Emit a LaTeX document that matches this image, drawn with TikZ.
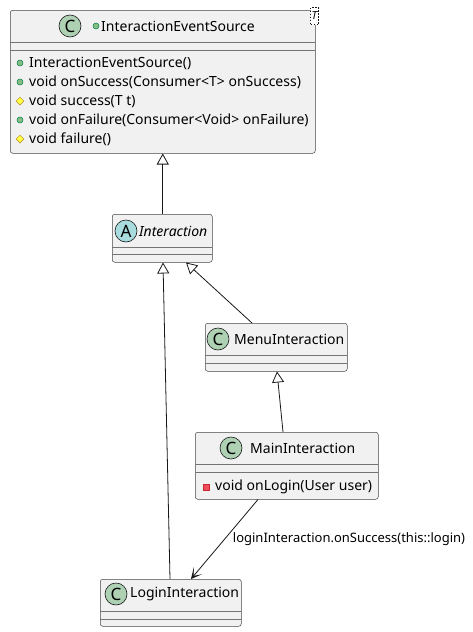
\documentclass[tikz,border=0pt]{standalone}
\usepackage{fontspec}
\setmainfont{Noto Sans}
\usetikzlibrary{arrows.meta,shapes.geometric}
\definecolor{boxfill}{HTML}{F1F1F1}
\definecolor{boxline}{HTML}{181818}
\definecolor{cgreen}{HTML}{ADD1B2}
\definecolor{acyan}{HTML}{A9DCDF}
\definecolor{pubfill}{HTML}{84BE84}
\definecolor{publine}{HTML}{038048}
\definecolor{protfill}{HTML}{FFFF44}
\definecolor{protline}{HTML}{B38D22}
\definecolor{privfill}{HTML}{F24D5C}
\definecolor{privline}{HTML}{C82930}
\tikzset{
  cls/.style={draw=boxline!80, fill=boxfill, line width=0.5pt, rounded corners=2.5pt, inner sep=0pt, anchor=north west},
  sepline/.style={draw=boxline!60, line width=0.5pt},
  circ/.style={circle, draw=boxline, line width=0.6pt, minimum size=22pt, inner sep=0pt, font=\fontsize{17}{17}\selectfont\bfseries},
  title/.style={inner sep=0pt, anchor=west, font=\fontsize{14}{16}\selectfont},
  member/.style={inner sep=0pt, anchor=west, font=\fontsize{14}{16}\selectfont},
  pub/.style={circle, fill=pubfill, draw=publine, line width=0.5pt, minimum size=6pt, inner sep=0pt},
  prot/.style={diamond, fill=protfill, draw=protline, line width=0.5pt, minimum size=8pt, inner sep=0pt},
  priv/.style={rectangle, fill=privfill, draw=privline, line width=0.5pt, minimum size=6pt, inner sep=0pt},
  ext/.style={draw=boxline, line width=0.8pt, -{Triangle[open, length=11pt, width=12pt]}},
  dep/.style={draw=boxline, line width=0.8pt, -{Stealth[length=11pt, width=11pt, inset=7pt]}},
  lbl/.style={inner sep=0pt, anchor=west, font=\fontsize{13}{15}\selectfont},
}
\begin{document}
\begin{tikzpicture}[x=1pt,y=-1pt]
\useasboundingbox (0,0) rectangle (472,632);

% InteractionEventSource
\node[cls, minimum width=305pt, minimum height=143pt] (ies) at (10,10) {};
\draw[sepline] (10,42) -- (315,42);
\draw[sepline] (10,50) -- (315,50);
\node[circ, fill=cgreen] (iesc) at (70,26) {C};
\node[pub] (iesv) at (96,26) {};
\node[title] (iest) at (101,26) {InteractionEventSource};
\node[draw=boxline, dash pattern=on 1.5pt off 1.5pt, line width=0.6pt, fill=white, minimum width=8pt, minimum height=17pt, inner sep=0pt, font=\fontsize{11}{11}\selectfont\itshape] (iesT) at (314.5,16) {T};
\node[pub] (m1i) at (20,63) {};
\node[member] (m1) at (29,63) {InteractionEventSource()};
\node[pub] (m2i) at (20,82) {};
\node[member] (m2) at (29,82) {void onSuccess(Consumer<T> onSuccess)};
\node[prot] (m3i) at (20,101) {};
\node[member] (m3) at (29,101) {void success(T t)};
\node[pub] (m4i) at (20,120) {};
\node[member] (m4) at (29,120) {void onFailure(Consumer<Void> onFailure)};
\node[prot] (m5i) at (20,139) {};
\node[member] (m5) at (29,139) {void failure()};

% Interaction
\node[cls, minimum width=100pt, minimum height=48pt] (inter) at (112,214) {};
\draw[sepline] (112,247) -- (212,247);
\draw[sepline] (112,254) -- (212,254);
\node[circ, fill=acyan] (interc) at (126,231) {A};
\node[title, font=\fontsize{14}{16}\selectfont\itshape] (intert) at (139,231) {Interaction};

% MenuInteraction
\node[cls, minimum width=142pt, minimum height=48pt] (menu) at (205,323) {};
\draw[sepline] (205,355) -- (347,355);
\draw[sepline] (205,363) -- (347,363);
\node[circ, fill=cgreen] (menuc) at (218,339) {C};
\node[title] (menut) at (234,339) {MenuInteraction};

% MainInteraction
\node[cls, minimum width=183pt, minimum height=67pt] (main) at (195,432) {};
\draw[sepline] (195,464) -- (378,464);
\draw[sepline] (195,472) -- (378,472);
\node[circ, fill=cgreen] (mainc) at (231,448) {C};
\node[title] (maint) at (250,448) {MainInteraction};
\node[priv] (mm1i) at (206,487) {};
\node[member] (mm1) at (215,487) {void onLogin(User user)};

% LoginInteraction
\node[cls, minimum width=141pt, minimum height=47pt] (login) at (100,579) {};
\draw[sepline] (100,611) -- (241,611);
\draw[sepline] (100,619) -- (241,619);
\node[circ, fill=cgreen] (loginc) at (116,594) {C};
\node[title] (logint) at (130,594) {LoginInteraction};

% connectors
\draw[ext] (inter.north -| ies.south) -- (ies.south);
\draw[ext] ([xshift=47pt]menu.north west) -- ([xshift=74pt]inter.south west);
\draw[ext] ([xshift=70pt]login.north west) -- ([xshift=51pt]inter.south west);
\draw[ext] ([xshift=88pt]main.north west) -- ([xshift=72pt]menu.south west);
\draw[dep] ([xshift=63pt]main.south west) -- ([xshift=91pt]login.north west)
  node[lbl, pos=0.5, xshift=8pt] (deplbl) {loginInteraction.onSuccess(this::login)};
\end{tikzpicture}
\end{document}
